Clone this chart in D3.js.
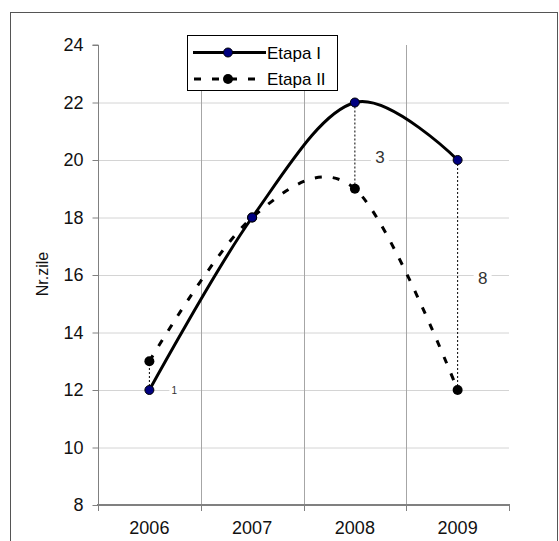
<!DOCTYPE html>
<html>
<head>
<meta charset="utf-8">
<script src="https://cdn.jsdelivr.net/npm/d3@7"></script>
<style>
  body { margin: 0; background: #fff; }
  text { font-family: Arial, "Liberation Sans", sans-serif; }
</style>
</head>
<body>
<div id="canvas"></div>
<script>
"use strict"

/* chart data */
let years = ["2006", "2007", "2008", "2009"];
let etapa1 = [12, 18, 22, 20];
let etapa2 = [13, 18, 19, 12];
let yTicks = [8, 10, 12, 14, 16, 18, 20, 22, 24];
/* where the difference labels sit, in y-axis units */
let diffLabelAt = [12, 20.1, 15.9];

let drawing = d3.select("#canvas")
    .append("svg")
    .attr("width", 559)
    .attr("height", 541);

/* chart border */
drawing.append("rect")
    .attr("x", 10.5)
    .attr("y", 12.5)
    .attr("width", 547)
    .attr("height", 540)
    .attr("fill", "white")
    .attr("stroke", "#555");

let x = d3.scaleBand().domain(years).range([98, 509]).padding(0);
let y = d3.scaleLinear().domain([8, 24]).range([505, 45]);
let cx = d => x(d) + x.bandwidth() / 2;

/* horizontal gridlines */
drawing.append("g")
    .selectAll("line")
    .data(yTicks.filter(t => t > 8 && t < 24))
    .join("line")
    .attr("x1", 98).attr("x2", 509)
    .attr("y1", d => y(d) + 0.5).attr("y2", d => y(d) + 0.5)
    .attr("stroke", "#d4d4d4");

/* vertical gridlines at category boundaries */
drawing.append("g")
    .selectAll("line")
    .data(years.slice(1))
    .join("line")
    .attr("x1", d => Math.round(x(d)) + 0.5).attr("x2", d => Math.round(x(d)) + 0.5)
    .attr("y1", 45).attr("y2", 505)
    .attr("stroke", "#a6a6a6");

/* y axis */
let yAxis = drawing.append("g")
    .attr("transform", "translate(98.5,0)")
    .call(d3.axisLeft(y).tickValues(yTicks).tickSize(6).tickPadding(9));
yAxis.select(".domain").attr("stroke", "#808080").attr("d", "M-6," + y(24) + "H0V" + y(8));
yAxis.selectAll(".tick line").attr("stroke", "#808080");
yAxis.selectAll("text").attr("font-size", 18).attr("fill", "#111")
    .style("font-family", "Arial, 'Liberation Sans', sans-serif");

/* x axis */
let xAxis = drawing.append("g")
    .attr("transform", "translate(0,505)");
xAxis.append("line")
    .attr("x1", 97).attr("x2", 510)
    .attr("stroke", "#808080").attr("stroke-width", 2);
xAxis.selectAll("line.tk")
    .data(years.map(d => x(d)).concat([x.range()[1]]))
    .join("line")
    .attr("class", "tk")
    .attr("x1", d => Math.round(d) + 0.5).attr("x2", d => Math.round(d) + 0.5)
    .attr("y1", 0).attr("y2", 6)
    .attr("stroke", "#808080");
xAxis.selectAll("text")
    .data(years)
    .join("text")
    .attr("x", d => cx(d))
    .attr("y", 29)
    .attr("text-anchor", "middle")
    .attr("font-size", 18)
    .attr("fill", "#111")
    .text(d => d);

/* y axis title */
drawing.append("text")
    .attr("transform", "translate(48,274) rotate(-90)")
    .attr("text-anchor", "middle")
    .attr("font-size", 16)
    .attr("fill", "#111")
    .text("Nr.zile");

/* drop lines between the two stages */
drawing.append("g")
    .selectAll("line")
    .data(years.filter((d, i) => etapa1[i] !== etapa2[i]))
    .join("line")
    .attr("x1", d => cx(d)).attr("x2", d => cx(d))
    .attr("y1", d => y(etapa1[years.indexOf(d)]))
    .attr("y2", d => y(etapa2[years.indexOf(d)]))
    .attr("stroke", "#000")
    .attr("stroke-width", 1)
    .attr("stroke-dasharray", "2,2");

/* difference labels */
let diffs = years.map((d, i) => ({ year: d, diff: Math.abs(etapa1[i] - etapa2[i]) }))
    .filter(d => d.diff > 0);
let diffG = drawing.append("g")
    .selectAll("g")
    .data(diffs)
    .join("g")
    .attr("transform", (d, i) => "translate(" + (cx(d.year) + 25) + "," + y(diffLabelAt[i]) + ")");
diffG.append("rect")
    .attr("x", (d, i) => i === 0 ? -5 : -9)
    .attr("y", (d, i) => i === 0 ? -6 : -10)
    .attr("width", (d, i) => i === 0 ? 10 : 18)
    .attr("height", (d, i) => i === 0 ? 12 : 20)
    .attr("fill", "white");
diffG.append("text")
    .attr("text-anchor", "middle")
    .attr("dy", "0.35em")
    .attr("font-size", (d, i) => i === 0 ? 10 : 17)
    .attr("fill", "#333")
    .text(d => d.diff);

/* smoothed lines */
let line = d3.line()
    .x((d, i) => cx(years[i]))
    .y(d => y(d))
    .curve(d3.curveCardinal.tension(0));

drawing.append("path")
    .attr("d", line(etapa2))
    .attr("fill", "none")
    .attr("stroke", "#000")
    .attr("stroke-width", 3)
    .attr("stroke-dasharray", "7,11");

drawing.append("path")
    .attr("d", line(etapa1))
    .attr("fill", "none")
    .attr("stroke", "#000")
    .attr("stroke-width", 3);

/* markers */
drawing.append("g")
    .selectAll("circle")
    .data(etapa2)
    .join("circle")
    .attr("cx", (d, i) => cx(years[i]))
    .attr("cy", d => y(d))
    .attr("r", 5)
    .attr("fill", "#000");

drawing.append("g")
    .selectAll("circle")
    .data(etapa1)
    .join("circle")
    .attr("cx", (d, i) => cx(years[i]))
    .attr("cy", d => y(d))
    .attr("r", 4.5)
    .attr("fill", "#000080")
    .attr("stroke", "#000")
    .attr("stroke-width", 1);

/* legend */
let legend = drawing.append("g");
legend.append("rect")
    .attr("x", 187.5).attr("y", 35.5)
    .attr("width", 150).attr("height", 55)
    .attr("fill", "white")
    .attr("stroke", "#000");

legend.append("line")
    .attr("x1", 193).attr("x2", 266)
    .attr("y1", 52.5).attr("y2", 52.5)
    .attr("stroke", "#000").attr("stroke-width", 3);
legend.append("circle")
    .attr("cx", 228).attr("cy", 52.5).attr("r", 4.5)
    .attr("fill", "#000080").attr("stroke", "#000");
legend.append("text")
    .attr("x", 267).attr("y", 58.5)
    .attr("font-size", 17)
    .text("Etapa I");

legend.append("line")
    .attr("x1", 194).attr("x2", 266)
    .attr("y1", 79).attr("y2", 79)
    .attr("stroke", "#000").attr("stroke-width", 3)
    .attr("stroke-dasharray", "7,11");
legend.append("circle")
    .attr("cx", 228).attr("cy", 79).attr("r", 5)
    .attr("fill", "#000");
legend.append("text")
    .attr("x", 267).attr("y", 85)
    .attr("font-size", 17)
    .text("Etapa II");
</script>
</body>
</html>
